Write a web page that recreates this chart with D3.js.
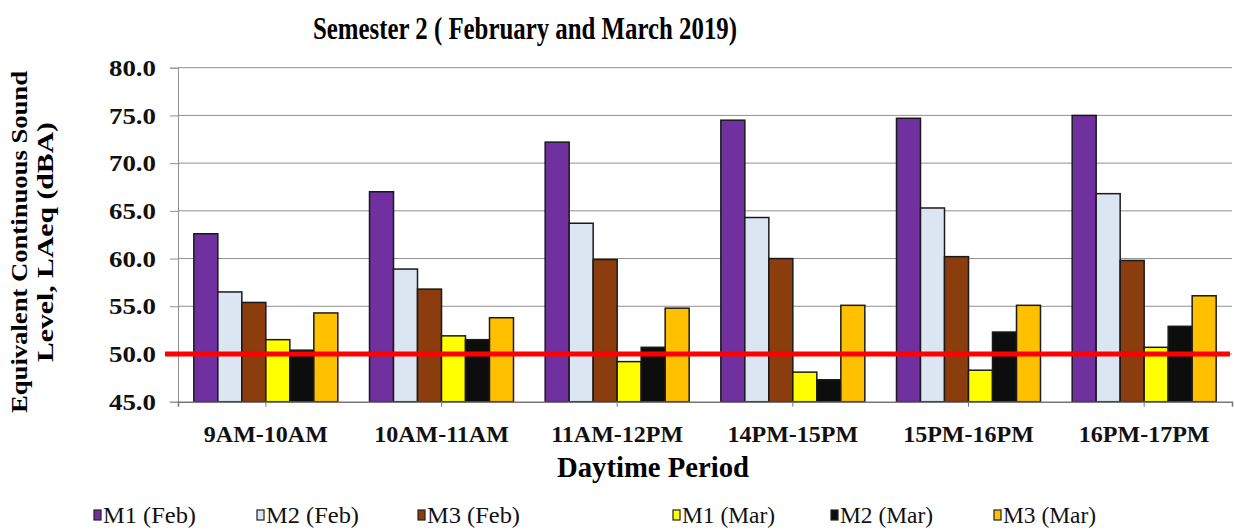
<!DOCTYPE html>
<html>
<head>
<meta charset="utf-8">
<script src="https://cdn.jsdelivr.net/npm/d3@7"></script>
<style>
  body { margin: 0; background: #fff; }
  svg text { font-family: "Liberation Serif", "Times New Roman", serif; }
</style>
</head>
<body>
<div id="chart"></div>
<script>
// time periods on the x axis
const periods = ["9AM-10AM", "10AM-11AM", "11AM-12PM", "14PM-15PM", "15PM-16PM", "16PM-17PM"];
const seriesNames = ["M1 (Feb)", "M2 (Feb)", "M3 (Feb)", "M1 (Mar)", "M2 (Mar)", "M3 (Mar)"];
// LAeq values
const m1Feb = [62.6, 67.0, 72.2, 74.5, 74.7, 75.0];
const m2Feb = [56.5, 58.9, 63.7, 64.3, 65.3, 66.8];
const m3Feb = [55.4, 56.8, 59.9, 60.0, 60.2, 59.8];
const m1Mar = [51.5, 51.9, 49.2, 48.1, 48.3, 50.7];
const m2Mar = [50.4, 51.5, 50.7, 47.3, 52.3, 52.9];
const m3Mar = [54.3, 53.8, 54.8, 55.1, 55.1, 56.1];
const yTicks = [45, 50, 55, 60, 65, 70, 75, 80];
const limit = 50;

const colors = ["#7030A0", "#DCE6F2", "#8B3D0E", "#FFFF00", "#0D0D0D", "#FFC000"];
const allSeries = [m1Feb, m2Feb, m3Feb, m1Mar, m2Mar, m3Mar];

const W = 1234, H = 531;
const plotL = 178, plotR = 1232, plotT = 67.7, plotB = 401.7;
const serif = '"Liberation Serif", "Times New Roman", serif';

const svg = d3.select("#chart").append("svg")
  .attr("width", W).attr("height", H);

const x = d3.scaleBand().domain(periods).range([plotL, plotR]).padding(0);
const xs = d3.scaleBand().domain(seriesNames).range([0, x.bandwidth()])
  .paddingInner(0).paddingOuter(0.66);
const y = d3.scaleLinear().domain([45, 80]).range([plotB, plotT]);

// gridlines
svg.append("g").selectAll("line").data(yTicks.filter(d => d > 45)).join("line")
  .attr("x1", plotL).attr("x2", plotR)
  .attr("y1", d => y(d)).attr("y2", d => y(d))
  .attr("stroke", "#909090").attr("stroke-width", 1);

// y axis
const yAxis = d3.axisLeft(y).tickValues(yTicks).tickSize(8).tickPadding(14)
  .tickFormat(d3.format(".1f"));
const gy = svg.append("g").attr("transform", `translate(${plotL},0)`).call(yAxis);
gy.attr("font-family", null);
gy.select(".domain").attr("stroke", "#909090");
gy.selectAll(".tick line").attr("stroke", "#909090");
gy.selectAll(".tick text")
  .attr("font-size", 24).attr("font-weight", "bold").attr("fill", "#111")
  .style("font-family", serif)
  .attr("textLength", 47).attr("lengthAdjust", "spacingAndGlyphs");

// bars
const rows = periods.map((p, i) => ({ p, vals: allSeries.map((s, k) => ({ k, v: s[i] })) }));
const groups = svg.append("g").selectAll("g").data(rows).join("g")
  .attr("transform", d => `translate(${x(d.p)},0)`);
groups.selectAll("rect").data(d => d.vals).join("rect")
  .attr("x", d => xs(seriesNames[d.k]))
  .attr("y", d => y(d.v))
  .attr("width", xs.bandwidth())
  .attr("height", d => y(45) - y(d.v))
  .attr("fill", d => colors[d.k])
  .attr("stroke", "#1a1a1a").attr("stroke-width", 1.5);

// x axis
const xAxis = d3.axisBottom(x).tickSize(5).tickPadding(18);
const gx = svg.append("g").attr("transform", `translate(0,${plotB})`).call(xAxis);
gx.attr("font-family", null);
gx.select(".domain").attr("stroke", "#777").attr("stroke-width", 1.5);
gx.selectAll(".tick line").attr("stroke", "#777");
gx.selectAll(".tick text")
  .attr("font-size", 24).attr("font-weight", "bold").attr("fill", "#111")
  .style("font-family", serif);

// 50 dBA limit line
svg.append("line")
  .attr("x1", 165).attr("x2", 1230)
  .attr("y1", y(limit)).attr("y2", y(limit))
  .attr("stroke", "#FF0000").attr("stroke-width", 5);

// title
svg.append("text").attr("x", 525).attr("y", 39)
  .attr("text-anchor", "middle").attr("font-size", 31).attr("font-weight", "bold")
  .style("font-family", serif)
  .attr("textLength", 424).attr("lengthAdjust", "spacingAndGlyphs")
  .text("Semester 2 ( February and March 2019)");

// x axis title
svg.append("text").attr("x", 653).attr("y", 477)
  .attr("text-anchor", "middle").attr("font-size", 30).attr("font-weight", "bold")
  .style("font-family", serif)
  .attr("textLength", 192).attr("lengthAdjust", "spacingAndGlyphs")
  .text("Daytime Period");

// y axis title, two lines
const yTitle = [["Equivalent Continuous Sound", 27, 342], ["Level, LAeq (dBA)", 53, 240]];
yTitle.forEach(([t, bx, len]) => {
  svg.append("text")
    .attr("transform", `translate(${bx},242) rotate(-90)`)
    .attr("text-anchor", "middle").attr("font-size", 23).attr("font-weight", "bold")
    .style("font-family", serif)
    .attr("textLength", len).attr("lengthAdjust", "spacingAndGlyphs")
    .text(t);
});

// legend
const legendX = [94, 257, 418, 673, 831, 994];
const lg = svg.append("g").selectAll("g").data(seriesNames).join("g")
  .attr("transform", (d, i) => `translate(${legendX[i]},510)`);
lg.append("rect").attr("width", 7).attr("height", 10)
  .attr("fill", (d, i) => colors[i]).attr("stroke", "#222").attr("stroke-width", 1.2);
lg.append("text").attr("x", 9).attr("y", 13)
  .attr("font-size", 24).attr("fill", "#111")
  .style("font-family", serif)
  .attr("textLength", 93).attr("lengthAdjust", "spacingAndGlyphs")
  .text(d => d);
</script>
</body>
</html>
